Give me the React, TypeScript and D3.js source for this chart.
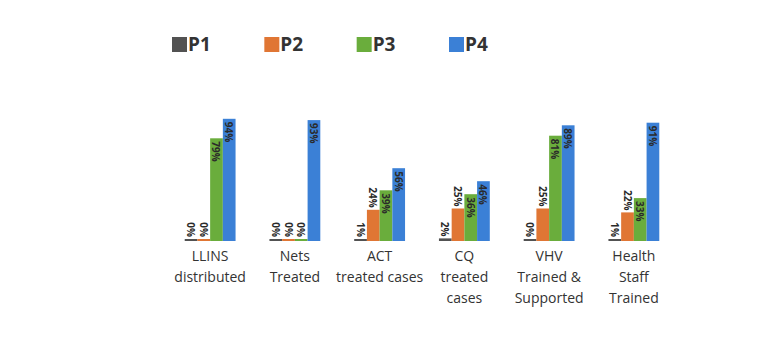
import { useRef, useEffect } from "react";
import * as d3 from "d3";

const categories = [
  ["LLINS", "distributed"],
  ["Nets", "Treated"],
  ["ACT", "treated cases"],
  ["CQ", "treated", "cases"],
  ["VHV", "Trained &", "Supported"],
  ["Health", "Staff", "Trained"],
];
const seriesNames = ["P1", "P2", "P3", "P4"];
const p1 = [0, 0, 1, 2, 0, 1];
const p2 = [0, 0, 24, 25, 25, 22];
const p3 = [79, 0, 39, 36, 81, 33];
const p4 = [94, 93, 56, 46, 89, 91];
const colors = ["#525252", "#e07634", "#6aad3c", "#3b80d6"];

export default function App() {
  const ref = useRef<SVGSVGElement>(null);

  useEffect(() => {
    if (!ref.current) return;
    const svg = d3.select(ref.current);
    svg.selectAll("*").remove();

    const width = 780;
    const height = 354;
    const baseline = 241;
    const values = [p1, p2, p3, p4];

    const x0 = d3
      .scaleBand<number>()
      .domain(d3.range(categories.length))
      .range([172, 672])
      .paddingInner(0.4)
      .paddingOuter(0.15);
    const x1 = d3
      .scaleBand<number>()
      .domain(d3.range(seriesNames.length))
      .range([0, x0.bandwidth()]);
    const y = d3.scaleLinear().domain([0, 100]).range([baseline, baseline - 130]);

    const g = svg.append("g");

    categories.forEach((cat, ci) => {
      const grp = g.append("g").attr("transform", `translate(${x0(ci)},0)`);
      seriesNames.forEach((_, si) => {
        const v = values[si][ci];
        const top = Math.min(y(v), baseline - 2);
        const bx = x1(si)!;
        grp
          .append("rect")
          .attr("x", bx)
          .attr("y", top)
          .attr("width", x1.bandwidth())
          .attr("height", baseline - top)
          .attr("fill", colors[si]);

        // tall bars carry the label inside, short ones above
        const inside = baseline - top > 40;
        const cx = bx + x1.bandwidth() / 2;
        const ty = inside ? top + 3 : top - 2;
        grp
          .append("text")
          .attr("transform", `translate(${cx},${ty}) rotate(90)`)
          .attr("text-anchor", inside ? "start" : "end")
          .attr("dominant-baseline", "central")
          .style("font-family", "'Open Sans', sans-serif")
          .style("font-size", "10px")
          .style("font-weight", "700")
          .style("fill", "#2a2a2a")
          .text(`${v}%`);
      });

      const t = g
        .append("text")
        .attr("x", x0(ci)! + x0.bandwidth() / 2)
        .attr("y", 261)
        .attr("text-anchor", "middle")
        .style("font-family", "'Open Sans', sans-serif")
        .style("font-size", "14px")
        .style("fill", "#333");
      cat.forEach((line, li) => {
        t.append("tspan")
          .attr("x", x0(ci)! + x0.bandwidth() / 2)
          .attr("dy", li === 0 ? 0 : 21)
          .text(line);
      });
    });

    // legend
    const lx = d3.scalePoint<string>().domain(seriesNames).range([172, 449]);
    seriesNames.forEach((name, si) => {
      const lg = svg.append("g").attr("transform", `translate(${lx(name)},37)`);
      lg.append("rect")
        .attr("width", 15)
        .attr("height", 15)
        .attr("fill", colors[si]);
      lg.append("text")
        .attr("x", 16)
        .attr("y", 14)
        .style("font-family", "'Open Sans', sans-serif")
        .style("font-size", "19px")
        .style("font-weight", "700")
        .style("fill", "#333")
        .text(name);
    });

    svg.attr("width", width).attr("height", height);
  }, []);

  return (
    <svg
      ref={ref}
      width={780}
      height={354}
      style={{ position: "absolute", left: 0, top: 0, background: "#fff" }}
    />
  );
}
